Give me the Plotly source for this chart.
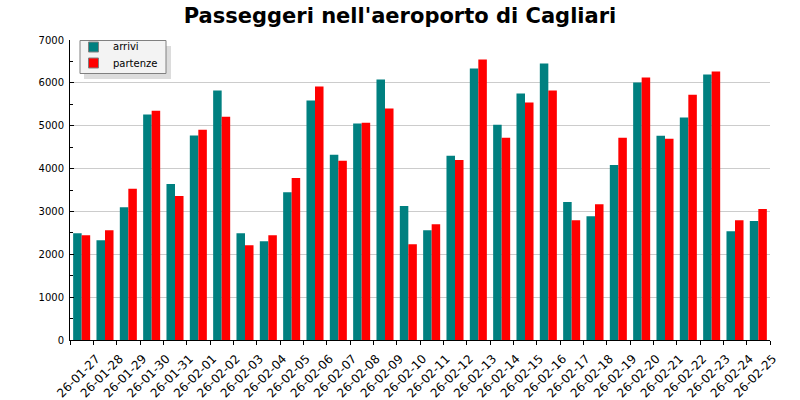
import plotly.graph_objects as go

# Daily passengers at Cagliari airport
days = ['26-01-27', '26-01-28', '26-01-29', '26-01-30', '26-01-31',
        '26-02-01', '26-02-02', '26-02-03', '26-02-04', '26-02-05',
        '26-02-06', '26-02-07', '26-02-08', '26-02-09', '26-02-10',
        '26-02-11', '26-02-12', '26-02-13', '26-02-14', '26-02-15',
        '26-02-16', '26-02-17', '26-02-18', '26-02-19', '26-02-20',
        '26-02-21', '26-02-22', '26-02-23', '26-02-24', '26-02-25']
arrivi = [2490, 2330, 3100, 5260, 3640, 4770, 5820, 2490, 2305, 3450,
          5590, 4320, 5050, 6080, 3125, 2560, 4300, 6335, 5025, 5750,
          6450, 3220, 2890, 4085, 6010, 4765, 5190, 6195, 2540, 2775]
partenze = [2445, 2560, 3530, 5350, 3360, 4905, 5210, 2210, 2445, 3780,
            5915, 4180, 5070, 5400, 2235, 2700, 4200, 6545, 4720, 5540,
            5820, 2795, 3170, 4720, 6125, 4695, 5725, 6265, 2795, 3055]

series = [('arrivi', arrivi, '#008080'), ('partenze', partenze, '#ff0000')]

pos = list(range(len(days)))

# plot area in pixels (margins below)
L, R, T, B = 70, 30, 40, 60
W, H = 800, 400
pw, ph = W - L - R, H - T - B


def px_x(p):
    return (p - L) / pw


def px_y(p):
    return (H - B - p) / ph


fig = go.Figure()
for name, vals, col in series:
    fig.add_trace(go.Bar(x=pos, y=vals, name=name, marker_color=col,
                         marker_line_width=0, showlegend=False))

# labels sit at the right-hand boundary of each day group
tickvals = [p - 0.5 for p in pos] + [pos[-1] + 0.5]
ticktext = [''] + days

# hand-made legend box with drop shadow
shapes = [
    dict(type='rect', x0=px_x(84), x1=px_x(171), y0=px_y(46), y1=px_y(79),
         fillcolor='#dcdcdc', line_width=0),
    dict(type='rect', x0=px_x(80), x1=px_x(166), y0=px_y(40.5), y1=px_y(73.5),
         fillcolor='#f3f3f3', line=dict(color='#808080', width=1)),
]
annotations = []
for i, (name, vals, col) in enumerate(series):
    cy = 47 + 16 * i
    shapes.append(dict(type='rect', x0=px_x(88.5), x1=px_x(98.5),
                       y0=px_y(cy - 5), y1=px_y(cy + 5),
                       fillcolor=col, line=dict(color='#808080', width=1)))
    annotations.append(dict(x=px_x(111), y=px_y(cy), xref='paper', yref='paper',
                            text=name, showarrow=False, xanchor='left',
                            yanchor='middle', font=dict(size=10, color='black')))
for s in shapes:
    s.update(xref='paper', yref='paper', layer='above')

fig.update_layout(
    width=W, height=H,
    margin=dict(l=L, r=R, t=T, b=B, autoexpand=False),
    paper_bgcolor='white', plot_bgcolor='white',
    font=dict(family='DejaVu Sans', color='black'),
    title=dict(text="<b>Passeggeri nell'aeroporto di Cagliari</b>",
               x=0.5, xanchor='center', y=0.962, yanchor='middle',
               yref='container', font=dict(size=21, family='DejaVu Sans')),
    barmode='group', bargap=0.27, bargroupgap=0,
    showlegend=False,
    shapes=shapes, annotations=annotations,
)

fig.update_xaxes(
    range=[-0.5, pos[-1] + 0.5], automargin=False,
    tickmode='array', tickvals=tickvals, ticktext=ticktext,
    tickangle=-45, tickfont=dict(size=12), ticklabelshift=3,
    ticks='outside', ticklen=4, tickcolor='black', ticklabelstandoff=2,
    showline=True, linecolor='black', linewidth=1,
    showgrid=False, zeroline=False,
)
fig.update_yaxes(
    range=[0, 7000], dtick=1000, tickfont=dict(size=10), automargin=False,
    ticks='inside', ticklen=4, tickcolor='black', ticklabelstandoff=3,
    minor=dict(dtick=500, ticks='inside', ticklen=3, tickcolor='black', showgrid=False),
    showline=True, linecolor='black', linewidth=1,
    showgrid=True, gridcolor='#cccccc', gridwidth=1, zeroline=False,
)

# the page body has a default 8px margin; drop it so the figure fills the window
fig.write_html('out.html', config={'displayModeBar': False},
               post_script="document.body.style.margin='0';")
